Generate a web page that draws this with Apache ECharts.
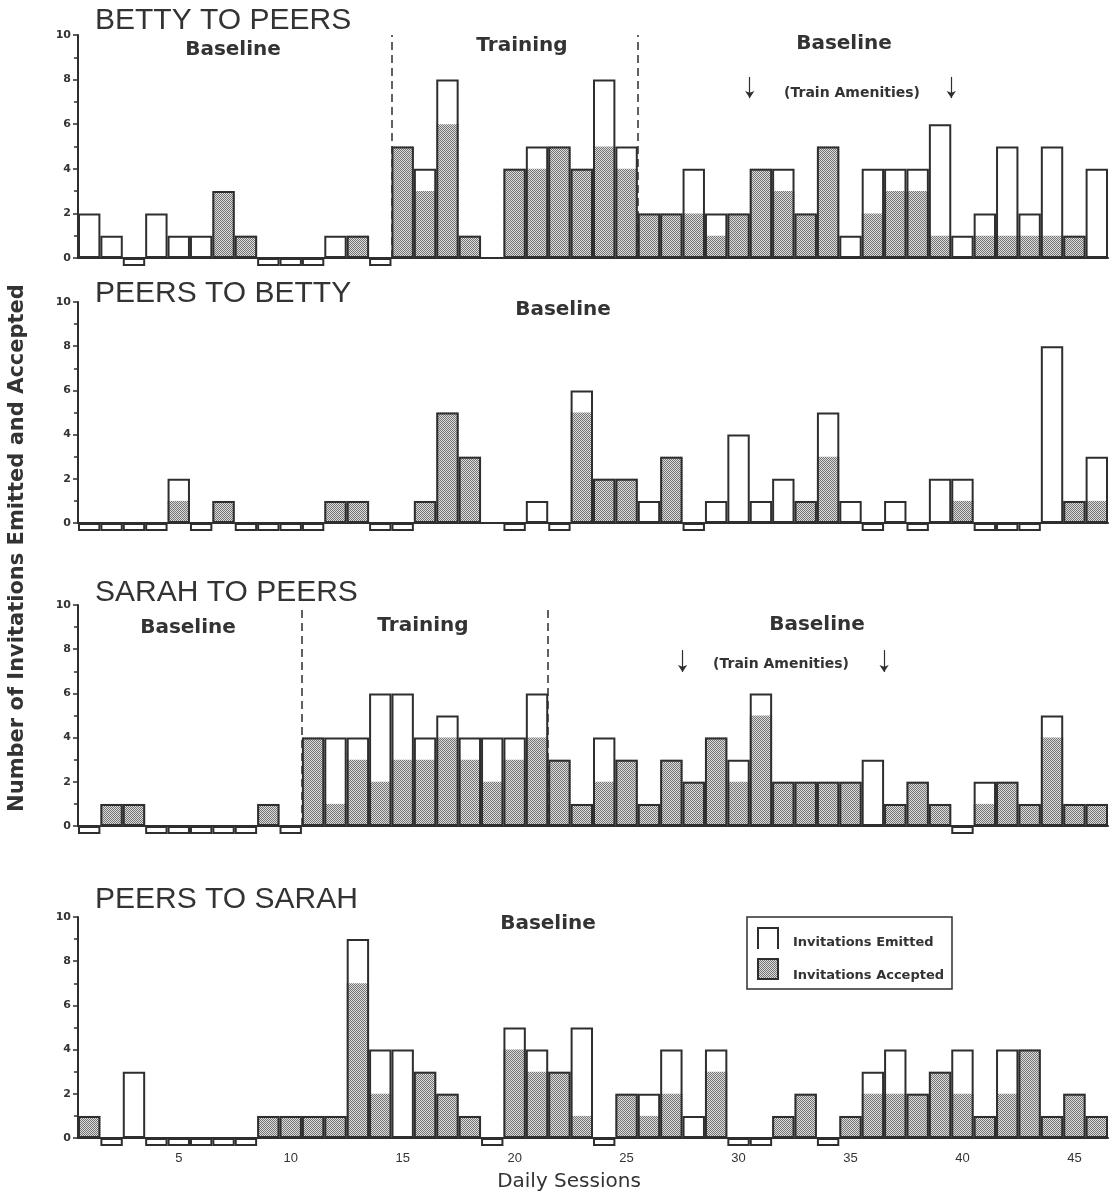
<!DOCTYPE html>
<html>
<head>
<meta charset="utf-8">
<title>Invitations Emitted and Accepted</title>
<script src="https://cdn.jsdelivr.net/npm/echarts@6/dist/echarts.min.js"></script>
<style>
  html, body { margin: 0; padding: 0; background: #fff; }
  #chart { width: 1118px; height: 1196px; }
</style>
</head>
<body>
<div id="chart"></div>
<script>
// Daily sessions (categories shared by all four panels)
const sessions = ['1','2','3','4','5','6','7','8','9','10','11','12','13','14','15','16','17','18','19','20',
  '21','22','23','24','25','26','27','28','29','30','31','32','33','34','35','36','37','38','39','40',
  '41','42','43','44','45','46'];

// null = no session recorded that day
const bettyToPeersEmitted  = [2,1,0,2,1,1, 3,1, 0,0,0,1, 1,0, 5,4,8,1,null, 4,5,5,4,8,5, 2,2,4,2,2, 4,4,2,5,1, 4,4,4,6,1, 2,5,2,5,1,4];
const bettyToPeersAccepted = [0,0,0,0,0,0, 3,1, 0,0,0,0, 1,0, 5,3,6,1,null, 4,4,5,4,5,4, 2,2,2,1,2, 4,3,2,5,0, 2,3,3,1,0, 1,1,1,1,1,0];

const peersToBettyEmitted  = [0,0,0,0, 2,0,1, 0,0,0,0, 1,1,0,0, 1,5,3,null, 0,1,0,6,2,2,1,3,0,1,4, 1,2,1,5,1,0,1,0,2,2, 0,0,0,8,1,3];
const peersToBettyAccepted = [0,0,0,0, 1,0,1, 0,0,0,0, 1,1,0,0, 1,5,3,null, 0,0,0,5,2,2,0,3,0,0,0, 0,0,1,3,0,0,0,0,0,1, 0,0,0,0,1,1];

const sarahToPeersEmitted  = [0,1,1,0,0,0,0,0,1,0, 4,4,4,6,6,4,5,4,4,4,6, 3,1,4,3,1,3,2,4,3,6, 2,2,2,2,3,1,2,1,0,2, 2,1,5,1,1];
const sarahToPeersAccepted = [0,1,1,0,0,0,0,0,1,0, 4,1,3,2,3,3,4,3,2,3,4, 3,1,2,3,1,3,2,4,2,5, 2,2,2,2,0,1,2,1,0,1, 2,1,4,1,1];

const peersToSarahEmitted  = [1,0,3,0,0,0,0,0,1,1, 1,1,9,4,4,3,2,1,0,5, 4,3,5,0,2,2,4,1,4,0, 0,1,2,0,1,3,4,2,3,4, 1,4,4,1,2,1];
const peersToSarahAccepted = [1,0,0,0,0,0,0,0,1,1, 1,1,7,2,0,3,2,1,0,4, 3,3,1,0,2,1,2,0,3,0, 0,1,2,0,1,2,2,2,3,2, 1,2,4,1,2,1];

// Phase changes (between sessions) and the "Train Amenities" arrows
const bettyPhaseChanges = [14.5, 25.5];
const bettyAmenityMarks = [30.5, 39.5];
const sarahPhaseChanges = [10.5, 21.5];
const sarahAmenityMarks = [27.5, 36.5];

// Y axis ticks: 0..10, labelled every 2
const yMin = 0, yMax = 10, yStep = 2;
const xLabelEvery = 5;

const INK = '#2e2e2e';
const ZERO_DEPTH = 0.36;   // a zero session is drawn as a shallow box under the baseline

function stipplePattern() {
  const c = document.createElement('canvas');
  c.width = 2; c.height = 2;
  const g = c.getContext('2d');
  g.fillStyle = '#dcdcdc';
  g.fillRect(0, 0, 2, 2);
  g.fillStyle = '#747474';
  g.fillRect(0, 0, 1, 1);
  g.fillRect(1, 1, 1, 1);
  return c;
}
const stipple = { image: stipplePattern(), repeat: 'repeat' };

const panels = [
  { title: 'BETTY TO PEERS', emitted: bettyToPeersEmitted, accepted: bettyToPeersAccepted,
    top: 35, height: 223, phases: bettyPhaseChanges, marks: bettyAmenityMarks, markY: [8.12, 7.17] },
  { title: 'PEERS TO BETTY', emitted: peersToBettyEmitted, accepted: peersToBettyAccepted,
    top: 302, height: 221, phases: [], marks: [], markY: null },
  { title: 'SARAH TO PEERS', emitted: sarahToPeersEmitted, accepted: sarahToPeersAccepted,
    top: 605, height: 221, phases: sarahPhaseChanges, marks: sarahAmenityMarks, markY: [7.96, 6.97] },
  { title: 'PEERS TO SARAH', emitted: peersToSarahEmitted, accepted: peersToSarahAccepted,
    top: 917, height: 221, phases: [], marks: [], markY: null }
];

const grid = [], xAxis = [], yAxis = [], series = [];

panels.forEach((p, i) => {
  const last = i === panels.length - 1;
  grid.push({ left: 78, right: 10, top: p.top, height: p.height, containLabel: false });

  // category axis carrying the bars
  xAxis.push({
    type: 'category', gridIndex: i, data: sessions,
    boundaryGap: true,
    axisLine: { show: true, onZero: true, lineStyle: { color: INK, width: 2 } },
    axisTick: { show: false },
    axisLabel: {
      show: last,
      interval: (idx) => (idx + 1) % xLabelEvery === 0,
      margin: 14,
      color: '#333',
      fontFamily: 'Liberation Sans',
      fontSize: 13
    },
    splitLine: { show: false }
  });
  // continuous session axis for phase lines and arrows
  xAxis.push({
    type: 'value', gridIndex: i, min: 0.5, max: sessions.length + 0.5, show: false
  });

  yAxis.push({
    type: 'value', gridIndex: i, min: yMin, max: yMax, interval: yStep,
    axisLine: { show: true, lineStyle: { color: INK, width: 2 } },
    axisTick: { show: true, length: 5, lineStyle: { color: INK, width: 1.5 } },
    minorTick: { show: true, splitNumber: 2, length: 4, lineStyle: { color: INK, width: 1.5 } },
    axisLabel: { color: '#333', fontFamily: 'DejaVu Sans', fontWeight: 'bold', fontSize: 11, margin: 7 },
    splitLine: { show: false },
    minorSplitLine: { show: false }
  });

  const common = {
    type: 'bar', xAxisIndex: 2 * i, yAxisIndex: i,
    barGap: '-100%', barCategoryGap: '0%', animation: false, silent: true
  };

  series.push(Object.assign({}, common, {
    name: 'Invitations Accepted',
    data: p.accepted,
    z: 2,
    itemStyle: { color: stipple, borderWidth: 0 }
  }));
  series.push(Object.assign({}, common, {
    name: 'Invitations Emitted',
    data: p.emitted,
    z: 3,
    itemStyle: { color: 'rgba(255,255,255,0)', borderColor: INK, borderWidth: 2 }
  }));
  series.push(Object.assign({}, common, {
    name: 'zero',
    data: p.emitted.map(v => (v === 0 ? -ZERO_DEPTH : null)),
    z: 3,
    clip: false,
    itemStyle: { color: '#fff', borderColor: INK, borderWidth: 2 }
  }));

  if (p.phases.length) {
    series.push({
      type: 'line', xAxisIndex: 2 * i + 1, yAxisIndex: i, data: [], silent: true, animation: false,
      markLine: {
        silent: true, animation: false, symbol: ['none', 'none'],
        label: { show: false },
        lineStyle: { color: INK, width: 1.5, type: [8, 5] },
        data: p.phases.map(x => ({ xAxis: x }))
      }
    });
  }
  if (p.marks.length) {
    series.push({
      type: 'line', xAxisIndex: 2 * i + 1, yAxisIndex: i, data: [], silent: true, animation: false,
      markLine: {
        silent: true, animation: false, symbol: ['none', 'arrow'], symbolSize: 7,
        label: { show: false },
        itemStyle: { color: INK },
        lineStyle: { color: INK, width: 1.2, type: 'solid' },
        data: p.marks.map(x => [{ coord: [x, p.markY[0]] }, { coord: [x, p.markY[1]] }])
      }
    });
  }
});

function txt(text, x, y, font, align) {
  return {
    type: 'text', x: x, y: y, silent: true,
    style: {
      text: text, font: font, fill: '#333',
      textAlign: align || 'center', textVerticalAlign: 'middle',
      align: align || 'center', verticalAlign: 'middle'
    }
  };
}

const TITLE_FONT = '30px "Liberation Sans"';
const PHASE_FONT = 'bold 20px "DejaVu Sans"';
const NOTE_FONT = 'bold 14px "DejaVu Sans"';
const KEY_FONT = 'bold 13px "DejaVu Sans"';

const graphic = [
  txt('BETTY TO PEERS', 95, 21, TITLE_FONT, 'left'),
  txt('PEERS TO BETTY', 95, 294, TITLE_FONT, 'left'),
  txt('SARAH TO PEERS', 95, 593, TITLE_FONT, 'left'),
  txt('PEERS TO SARAH', 95, 900, TITLE_FONT, 'left'),

  txt('Baseline', 233, 50, PHASE_FONT),
  txt('Training', 522, 46, PHASE_FONT),
  txt('Baseline', 844, 44, PHASE_FONT),
  txt('(Train Amenities)', 852, 93, NOTE_FONT),

  txt('Baseline', 563, 310, PHASE_FONT),

  txt('Baseline', 188, 628, PHASE_FONT),
  txt('Training', 423, 626, PHASE_FONT),
  txt('Baseline', 817, 625, PHASE_FONT),
  txt('(Train Amenities)', 781, 664, NOTE_FONT),

  txt('Baseline', 548, 924, PHASE_FONT),

  txt('Daily Sessions', 569, 1182, '20px "DejaVu Sans"'),
  {
    type: 'text', x: 18, y: 548, rotation: Math.PI / 2, silent: true,
    style: {
      text: 'Number of Invitations Emitted and Accepted',
      font: 'bold 21px "DejaVu Sans"', fill: '#333',
      textAlign: 'center', textVerticalAlign: 'middle', align: 'center', verticalAlign: 'middle'
    }
  },

  // key
  { type: 'rect', silent: true, shape: { x: 747, y: 917, width: 205, height: 72 },
    style: { fill: 'rgba(0,0,0,0)', stroke: INK, lineWidth: 1.5 } },
  { type: 'polyline', silent: true, shape: { points: [[758, 949], [758, 928], [778, 928], [778, 949]] },
    style: { fill: 'none', stroke: INK, lineWidth: 2 } },
  { type: 'rect', silent: true, shape: { x: 758, y: 959, width: 20, height: 20 },
    style: { fill: stipple, stroke: INK, lineWidth: 2 } },
  txt('Invitations Emitted', 793, 943, KEY_FONT, 'left'),
  txt('Invitations Accepted', 793, 976, KEY_FONT, 'left')
];

const chart = echarts.init(document.getElementById('chart'), null, { renderer: 'canvas' });
chart.setOption({
  backgroundColor: '#fff',
  animation: false,
  grid: grid,
  xAxis: xAxis,
  yAxis: yAxis,
  series: series,
  graphic: graphic
});
</script>
</body>
</html>
